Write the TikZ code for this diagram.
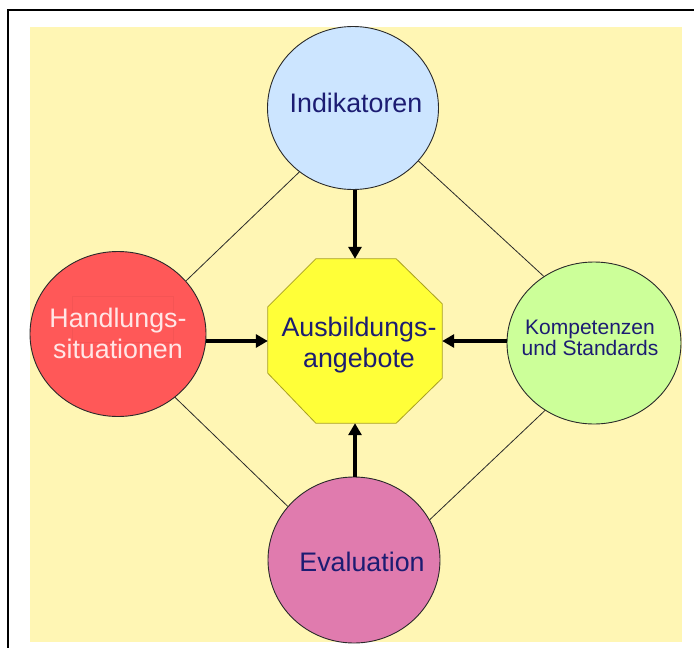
\documentclass[tikz,border=0pt]{standalone}
\usepackage{fontspec}
\setmainfont{Liberation Sans}
\usetikzlibrary{shapes.geometric,arrows.meta,calc}
\definecolor{bgyellow}{HTML}{FFF6B4}
\definecolor{indblue}{HTML}{CCE5FF}
\definecolor{handred}{HTML}{FF5858}
\definecolor{kompgreen}{HTML}{CCFF99}
\definecolor{evalpink}{HTML}{E07BAE}
\definecolor{octyellow}{HTML}{FFFF38}
\definecolor{octborder}{HTML}{A8A020}
\definecolor{navy}{HTML}{1C1C72}
\definecolor{paletext}{HTML}{FFE6E6}
\definecolor{rimcol}{HTML}{2A2A2A}
\begin{document}
\begin{tikzpicture}[x=1pt,y=-1pt,
  bubble/.style={ellipse,draw=rimcol,line width=0.9pt,inner sep=0pt},
  bigtext/.style={align=center,inner sep=0pt,font=\fontsize{26.8}{31.5}\selectfont,text=navy},
  smalltext/.style={align=center,inner sep=0pt,font=\fontsize{21}{21.5}\selectfont,text=navy},
  thinline/.style={draw=rimcol,line width=0.8pt},
  thickarrow/.style={draw=black,line width=3.4pt,-{Triangle[length=12pt,width=13pt]}}]
\useasboundingbox (0,0) rectangle (694,648);
% frame
\fill[white] (0,0) rectangle (694,648);
\fill[bgyellow] (30,27) rectangle (682,642);
\draw[black,line width=2pt] (8,660) -- (8,9.5) -- (700,9.5);
% nodes
\node[bubble,fill=indblue,minimum width=171pt,minimum height=163pt] (ind) at (353,108) {};
\node[bubble,fill=handred,minimum width=176pt,minimum height=165pt] (hand) at (118,334) {};
\node[bubble,fill=kompgreen,minimum width=174pt,minimum height=162pt] (komp) at (594,343) {};
\node[bubble,fill=evalpink,minimum width=172pt,minimum height=166pt] (eval) at (354,560) {};
\node[draw=none,inner sep=0pt,minimum width=174pt,minimum height=164pt] (oct) at (355,341) {};
\fill[octyellow,draw=octborder,line width=0.8pt]
  ($(oct.north west)+(48,0)$) -- ($(oct.north east)+(-46,0)$) --
  ($(oct.north east)+(0,45)$) -- ($(oct.south east)+(0,-45)$) --
  ($(oct.south east)+(-46,0)$) -- ($(oct.south west)+(48,0)$) --
  ($(oct.south west)+(0,-50)$) -- ($(oct.north west)+(0,48)$) -- cycle;
% faint rectangle in red circle
\draw[handred!80!black,opacity=0.18,line width=0.8pt] (72,296) rectangle (173,342);
% texts
\node[bigtext] (indtext) at (356,102.5) {Indikatoren};
\node[bigtext,text=paletext] (handtext) at (118,333.5) {Handlungs-\\situationen};
\node[smalltext] (komptext) at (590,338) {Kompetenzen\\und Standards};
\node[bigtext] (evaltext) at (362,561.5) {Evaluation};
\node[bigtext] (octtext) at (359,345) {Ausbildungs-\\angebote};
% thin connectors
\draw[thinline] (ind.230.6) -- (hand.38);
\draw[thinline] (ind.321) -- (komp.127.8);
\draw[thinline] (hand.312) -- (eval.141);
\draw[thinline] (komp.234.5) -- (eval.28);
% thick arrows
\draw[thickarrow] (oct.north |- ind.south) -- (oct.north);
\draw[thickarrow] (hand.east |- oct.west) -- (oct.west);
\draw[thickarrow] (komp.west |- oct.east) -- (oct.east);
\draw[thickarrow] (oct.south |- eval.north) -- (oct.south);
\end{tikzpicture}
\end{document}
